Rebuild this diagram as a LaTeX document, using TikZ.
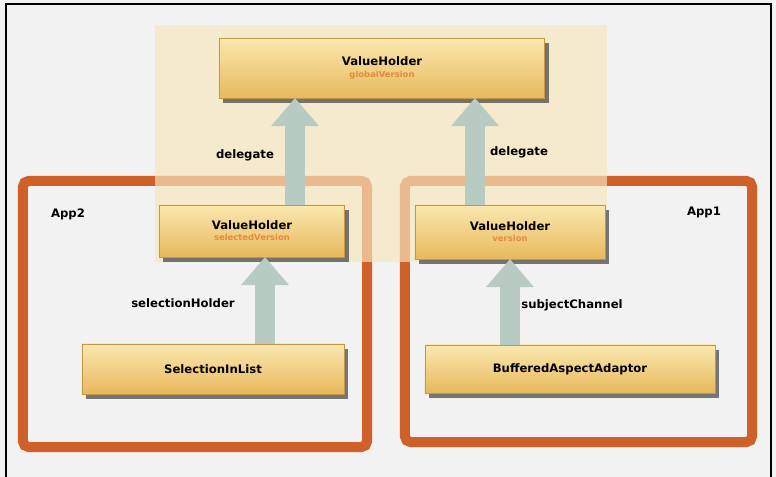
\documentclass[tikz,border=0pt]{standalone}
\usepackage{fontspec}
\setmainfont{DejaVu Sans}
\usetikzlibrary{arrows.meta,calc,shadows}
\definecolor{vhyellow}{RGB}{248,222,140}
\definecolor{vhgold}{RGB}{232,184,92}
\definecolor{vhedge}{RGB}{196,150,70}
\definecolor{appred}{RGB}{208,96,42}
\definecolor{panelcream}{RGB}{247,230,190}
\definecolor{arrowgrey}{RGB}{184,203,195}
\definecolor{subtxt}{RGB}{226,140,60}
\definecolor{bggrey}{RGB}{242,242,242}

\begin{document}
\begin{tikzpicture}[x=0.025cm,y=-0.025cm,font=\bfseries\fontsize{8.3}{9}\selectfont,
        b/.style={draw=vhedge,top color=vhyellow!70!white,bottom color=vhgold,
          drop shadow={shadow xshift=.1cm,shadow yshift=-.12cm,fill=black!75,opacity=.7},
          align=center,inner sep=1pt,outer sep=0pt},
        app/.style={draw=appred,line width=.25cm,rounded corners=4pt,outer sep=0pt},
        up/.style={line width=.5cm,draw=arrowgrey,-{Triangle[width=1.15cm,length=.7cm]}},
        sub/.style={text=subtxt,font=\bfseries\fontsize{6}{7}\selectfont}]
        \useasboundingbox (0,0) rectangle (776,477);
        \fill[bggrey] (0,0) rectangle (776,477);
        \draw[line width=1pt] (6,477)--(6,4)--(771,4)--(771,477);
        \node[app,minimum width=8.6cm,minimum height=6.65cm] (app2) at (195,314) {};
        \node[app,minimum width=8.675cm,minimum height=6.525cm] (app1) at (578.5,311.5) {};
        \node[fill=panelcream,fill opacity=.68,minimum width=11.3cm,minimum height=5.925cm]
          (panel) at (381,143.5) {};
        \node[anchor=center] (app2lbl) at (68,214) {App2};
        \node[anchor=center] (app1lbl) at (704,212) {App1};
        \node[b,minimum width=8.125cm,minimum height=1.5cm] (vhTop) at (382,68)
          {ValueHolder\\[-1pt]{\fontsize{6}{7}\selectfont\color{subtxt}globalVersion}};
        \node[b,minimum width=4.625cm,minimum height=1.3cm] (vhLeft) at (252,231)
          {ValueHolder\\[-1pt]{\fontsize{6}{7}\selectfont\color{subtxt}selectedVersion}};
        \node[b,minimum width=4.75cm,minimum height=1.35cm] (vhRight) at (510,232)
          {ValueHolder\\[-1pt]{\fontsize{6}{7}\selectfont\color{subtxt}version}};
        \node[b,minimum width=6.55cm,minimum height=1.25cm] (sil) at (213,369) {SelectionInList};
        \node[b,minimum width=7.25cm,minimum height=1.2cm] (baa) at (570,369) {BufferedAspectAdaptor};
        \draw[up] ([xshift=1.075cm]vhLeft.north) -- ([xshift=1.075cm]vhLeft.north |- vhTop.south);
        \draw[up] ([xshift=-.875cm]vhRight.north) -- ([xshift=-.875cm]vhRight.north |- vhTop.south);
        \draw[up] ([xshift=.325cm]vhLeft.south |- sil.north) -- ([xshift=.325cm]vhLeft.south);
        \draw[up] (vhRight.south |- baa.north) -- (vhRight.south);
        \node (dlgL) at (245,155) {delegate};
        \node (dlgR) at (519,152) {delegate};
        \node (selH) at (183,303) {selectionHolder};
        \node (subC) at (572,305) {subjectChannel};
      \end{tikzpicture}
\end{document}
